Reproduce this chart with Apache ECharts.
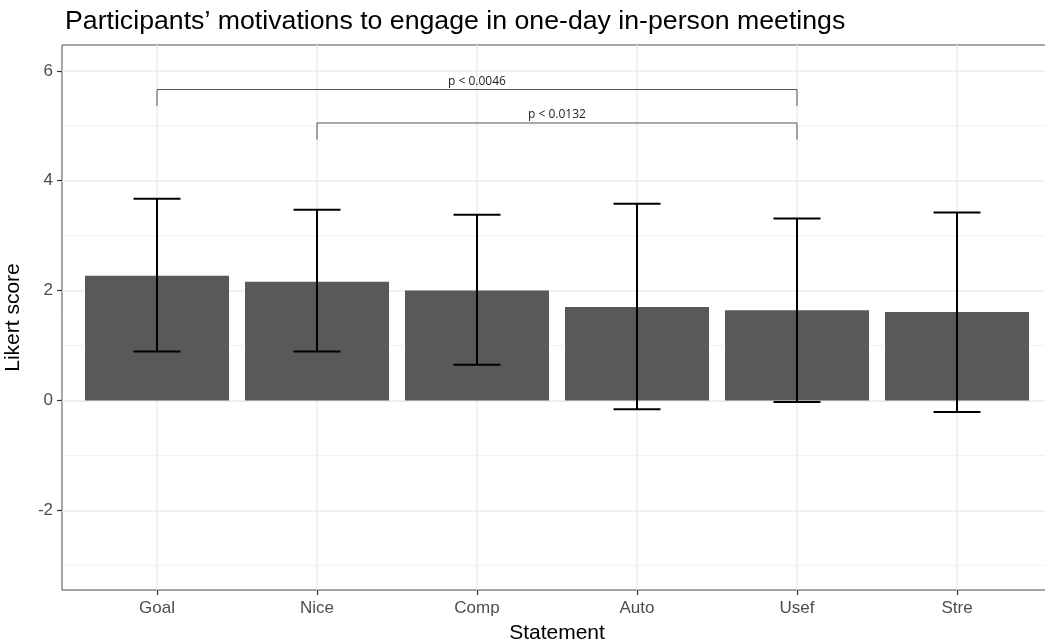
<!DOCTYPE html>
<html>
<head>
<meta charset="utf-8">
<script src="https://cdn.jsdelivr.net/npm/echarts@6/dist/echarts.min.js"></script>
<style>
html,body{margin:0;padding:0;background:#fff;}
#chart{width:1045px;height:642px;}
</style>
</head>
<body>
<div id="chart"></div>
<script>
const categories = ['Goal', 'Nice', 'Comp', 'Auto', 'Usef', 'Stre'];
const means = [2.27, 2.16, 2.00, 1.70, 1.64, 1.61];
const lowers = [0.89, 0.89, 0.65, -0.16, -0.03, -0.21];
const uppers = [3.67, 3.47, 3.38, 3.58, 3.31, 3.42];
const yMajorTicks = [-2, 0, 2, 4, 6];
const yMinorTicks = [-3, -1, 1, 3, 5];
const compFrom = ['Goal', 'Nice'];
const compTo = ['Usef', 'Usef'];
const compTop = [5.66, 5.05];
const compBottom = [5.36, 4.75];
const compLabels = ['p < 0.0046', 'p < 0.0132'];

const Y_MIN = -3.45, Y_MAX = 6.47;
const FONT = '"Liberation Sans", Arial, sans-serif';

const errData = categories.map((c, i) => [i, lowers[i], uppers[i]]);
const bracketData = compLabels.map((l, i) => [categories.indexOf(compFrom[i]), categories.indexOf(compTo[i]), compTop[i], compBottom[i], l]);
const minorData = yMinorTicks.map(v => [0, v]);

const chart = echarts.init(document.getElementById('chart'), null, {renderer: 'canvas'});
chart.setOption({
  animation: false,
  backgroundColor: '#fff',
  title: {
    text: 'Participants\u2019 motivations to engage in one-day in-person meetings',
    left: 60, top: 3,
    textStyle: {fontFamily: FONT, fontSize: 26.7, fontWeight: 'normal', color: '#000'}
  },
  grid: [
    {left: 62, top: 45, width: 991, height: 545, show: true, borderColor: '#4d4d4d', borderWidth: 1, backgroundColor: 'transparent', containLabel: false, outerBoundsMode: 'none'},
    {left: 157, top: 45, width: 800, height: 545, containLabel: false, outerBoundsMode: 'none'}
  ],
  xAxis: [
    {type: 'value', gridIndex: 0, min: 0, max: 1, show: false},
    {type: 'category', gridIndex: 1, data: categories, boundaryGap: false,
     name: 'Statement', nameLocation: 'middle', nameGap: 33,
     nameTextStyle: {fontFamily: FONT, fontSize: 21, color: '#000'},
     axisLine: {show: false, onZero: false},
     axisTick: {show: true, length: 5, lineStyle: {color: '#333', width: 1.2}},
     axisLabel: {fontFamily: FONT, fontSize: 17, color: '#4d4d4d', margin: 10, interval: 0},
     splitLine: {show: true, lineStyle: {color: '#ebebeb', width: 1.5}}
    }
  ],
  yAxis: [
    {type: 'value', gridIndex: 0, min: Y_MIN, max: Y_MAX,
     name: 'Likert score', nameLocation: 'middle', nameGap: 38, nameRotate: 90,
     nameTextStyle: {fontFamily: FONT, fontSize: 21, color: '#000'},
     axisLine: {show: false, onZero: false},
     axisTick: {show: true, length: 5, customValues: yMajorTicks, lineStyle: {color: '#333', width: 1.2}},
     axisLabel: {fontFamily: FONT, fontSize: 17, color: '#4d4d4d', margin: 9, customValues: yMajorTicks},
     splitLine: {show: true, lineStyle: {color: '#ebebeb', width: 1.5}}
    },
    {type: 'value', gridIndex: 1, min: Y_MIN, max: Y_MAX, show: false, splitLine: {show: false}}
  ],
  series: [
    {type: 'custom', xAxisIndex: 0, yAxisIndex: 0, data: minorData, z: 1, silent: true,
     renderItem: function (params, api) {
       const p = api.coord([0, api.value(1)]);
       const cs = params.coordSys;
       return {type: 'line', shape: {x1: cs.x + 1, y1: p[1], x2: cs.x + cs.width, y2: p[1]},
               style: {stroke: '#f0f0f0', lineWidth: 1}};
     }
    },
    {type: 'bar', xAxisIndex: 1, yAxisIndex: 1, data: means, barWidth: 144, clip: false,
     itemStyle: {color: '#595959'}, z: 2},
    {type: 'custom', xAxisIndex: 1, yAxisIndex: 1, data: errData, z: 3,
     renderItem: function (params, api) {
       const x = api.value(0);
       const lo = api.coord([x, api.value(1)]);
       const hi = api.coord([x, api.value(2)]);
       const hw = 23.5;
       const st = {stroke: '#000', lineWidth: 2, fill: null};
       return {type: 'group', children: [
         {type: 'line', shape: {x1: lo[0], y1: lo[1], x2: hi[0], y2: hi[1]}, style: st},
         {type: 'line', shape: {x1: lo[0] - hw, y1: lo[1], x2: lo[0] + hw, y2: lo[1]}, style: st},
         {type: 'line', shape: {x1: hi[0] - hw, y1: hi[1], x2: hi[0] + hw, y2: hi[1]}, style: st}
       ]};
     }
    },
    {type: 'custom', xAxisIndex: 1, yAxisIndex: 1, data: bracketData, z: 4,
     renderItem: function (params, api) {
       const a = api.value(0), b = api.value(1);
       const top = api.value(2), bot = api.value(3);
       const p1 = api.coord([a, bot]), p2 = api.coord([a, top]);
       const p3 = api.coord([b, top]), p4 = api.coord([b, bot]);
       return {type: 'group', children: [
         {type: 'polyline', shape: {points: [p1, p2, p3, p4]}, style: {stroke: '#555', lineWidth: 1, fill: null}},
         {type: 'text', x: (p2[0] + p3[0]) / 2, y: p2[1] - 2,
          style: {text: bracketData[params.dataIndex][4], fill: '#222', font: '12px "Open Sans", sans-serif', align: 'center', verticalAlign: 'bottom'}}
       ]};
     }
    }
  ]
});
</script>
</body>
</html>
